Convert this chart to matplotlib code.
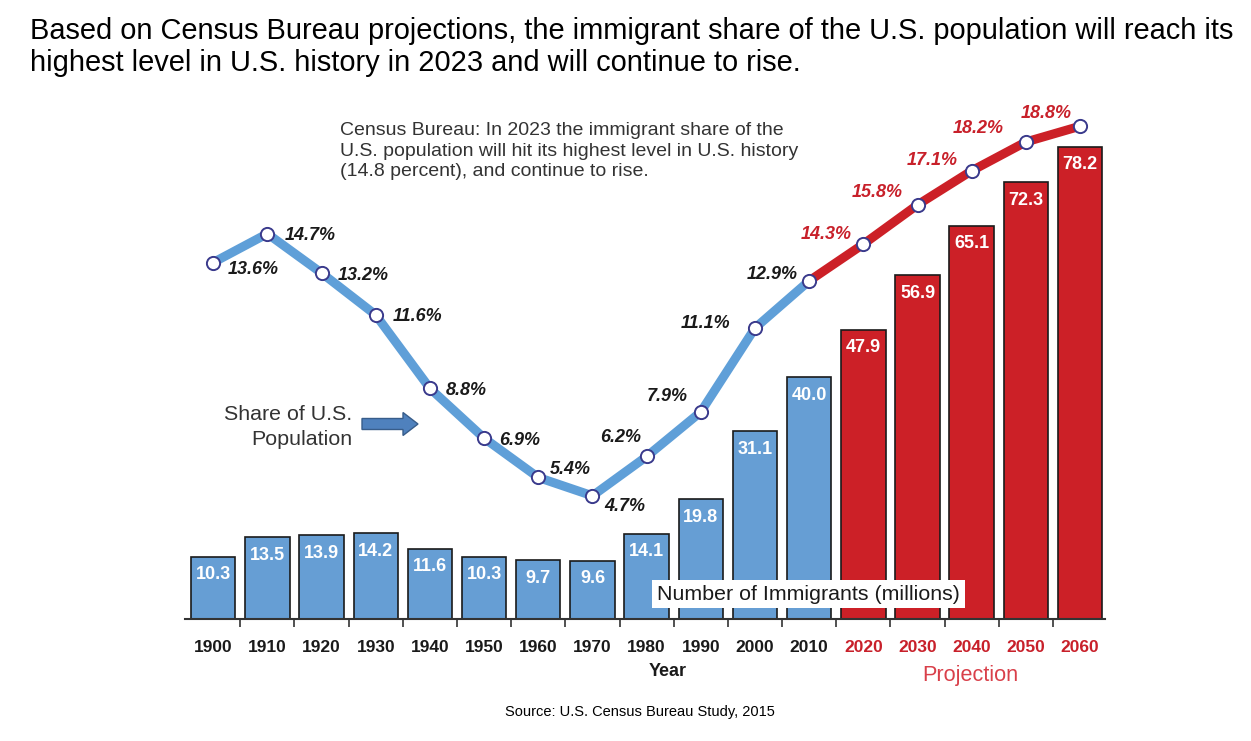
import numpy as np
import matplotlib
matplotlib.use("Agg")
import matplotlib.pyplot as plt
from matplotlib.patches import FancyArrow

plt.rcParams['font.family'] = ['Liberation Sans', 'DejaVu Sans']

# data
years = ['1900', '1910', '1920', '1930', '1940', '1950', '1960', '1970', '1980',
         '1990', '2000', '2010', '2020', '2030', '2040', '2050', '2060']
immigrants = [10.3, 13.5, 13.9, 14.2, 11.6, 10.3, 9.7, 9.6, 14.1,
              19.8, 31.1, 40.0, 47.9, 56.9, 65.1, 72.3, 78.2]
share = [13.6, 14.7, 13.2, 11.6, 8.8, 6.9, 5.4, 4.7, 6.2,
         7.9, 11.1, 12.9, 14.3, 15.8, 17.1, 18.2, 18.8]
first_projection = 12  # index of 2020

# label offsets (pixels) for the percent labels
pct_offsets = [(40, -7), (43, -2), (42, -2), (42, -2), (36, -2), (36, -2), (32, 8),
               (32, -11), (-26, 19), (-34, 15), (-49, 5), (-37, 6), (-37, 10),
               (-40, 12), (-40, 10), (-48, 13), (-34, 13)]

BLUE = '#669ed4'
LINE_BLUE = '#5f9fd8'
RED = '#cc2027'
TXT_RED = '#c8202a'

W, H = 1251, 741
fig = plt.figure(figsize=(W / 100, H / 100), dpi=100)

def fx(px):
    return px / W

def fy(py):
    return 1 - py / H

ax = fig.add_axes([fx(185), fy(619), fx(920), 519 / H])
ax2 = ax.twinx()

x = np.arange(len(years))
colors = [BLUE if i < first_projection else RED for i in x]
ax.bar(x, immigrants, width=0.82, color=colors, edgecolor='#1a1a1a', linewidth=1.2, zorder=2)
for i, v in enumerate(immigrants):
    ax.annotate(f'{v:.1f}', (i, v), xytext=(0, -18), textcoords='offset pixels',
                ha='center', va='center', color='white', fontsize=13, fontweight='bold', zorder=3)

ax.set_xlim(-0.52, 16.46)
ax.set_ylim(0, 85.9)
ax2.set_ylim(0, 19.8)

# share line
k = first_projection - 1
ax2.plot(x[:k + 1], share[:k + 1], color=LINE_BLUE, lw=6.5, solid_capstyle='round', zorder=3)
ax2.plot(x[k:], share[k:], color=RED, lw=6.5, solid_capstyle='round', zorder=3)
ax2.plot(x, share, ls='none', marker='o', ms=9.5, mfc='white', mec='#3a3a8c', mew=1.4, zorder=4)
for i, v in enumerate(share):
    c = TXT_RED if i >= first_projection else '#1a1a1a'
    ax2.annotate(f'{v:.1f}%', (i, v), xytext=pct_offsets[i], textcoords='offset pixels',
                 ha='center', va='center', fontsize=13, fontweight='bold', style='italic', color=c)

# axes styling
for a in (ax, ax2):
    for s in ('top', 'right', 'left'):
        a.spines[s].set_visible(False)
ax2.spines['bottom'].set_visible(False)
ax.spines['bottom'].set_linewidth(1.5)
ax.spines['bottom'].set_color('#333333')
ax.set_yticks([])
ax2.set_yticks([])
ax.set_xticks(x)
ax.set_xticklabels(years, fontsize=12.5, fontweight='bold')
ax.tick_params(axis='x', which='major', length=0, pad=15)
for i, lab in enumerate(ax.get_xticklabels()):
    lab.set_color(TXT_RED if i >= first_projection else '#1a1a1a')
ax.set_xticks(x[:-1] + 0.5, minor=True)
ax.tick_params(axis='x', which='minor', length=6, width=1.2, color='#333333', direction='out')

ax.text(8.19, 4.1, 'Number of Immigrants (millions)', ha='left', va='center', fontsize=15.4,
        color='#1a1a1a', zorder=5,
        bbox=dict(boxstyle='square,pad=0.22', facecolor='white', edgecolor='none'))

# texts
fig.text(fx(30), fy(31), 'Based on Census Bureau projections, the immigrant share of the U.S. population will reach its',
         fontsize=20.9, ha='left', va='center')
fig.text(fx(30), fy(63), 'highest level in U.S. history in 2023 and will continue to rise.',
         fontsize=20.9, ha='left', va='center')
fig.text(fx(340), fy(151), 'Census Bureau: In 2023 the immigrant share of the\n'
         'U.S. population will hit its highest level in U.S. history\n'
         '(14.8 percent), and continue to rise.',
         fontsize=14, ha='left', va='center', color='#333333', linespacing=1.28)
fig.text(fx(352), fy(427), 'Share of U.S.\nPopulation', fontsize=15.4, ha='right', va='center',
         multialignment='right', color='#333333', linespacing=1.38)
fig.patches.append(FancyArrow(fx(362), fy(424), fx(41), 0, width=11 / H, head_width=23 / H,
                              head_length=fx(15), length_includes_head=False,
                              transform=fig.transFigure, facecolor='#4f81bd', edgecolor='#385d8a', lw=1))
fig.text(fx(668), fy(672), 'Year', fontsize=13, fontweight='bold', ha='center', va='center', color='#1a1a1a')
fig.text(fx(970), fy(675), 'Projection', fontsize=15.6, ha='center', va='center', color='#d9404a')
fig.text(fx(640), fy(712), 'Source: U.S. Census Bureau Study, 2015', fontsize=10.5, ha='center', va='center')

fig.savefig('out.png', dpi=100)
